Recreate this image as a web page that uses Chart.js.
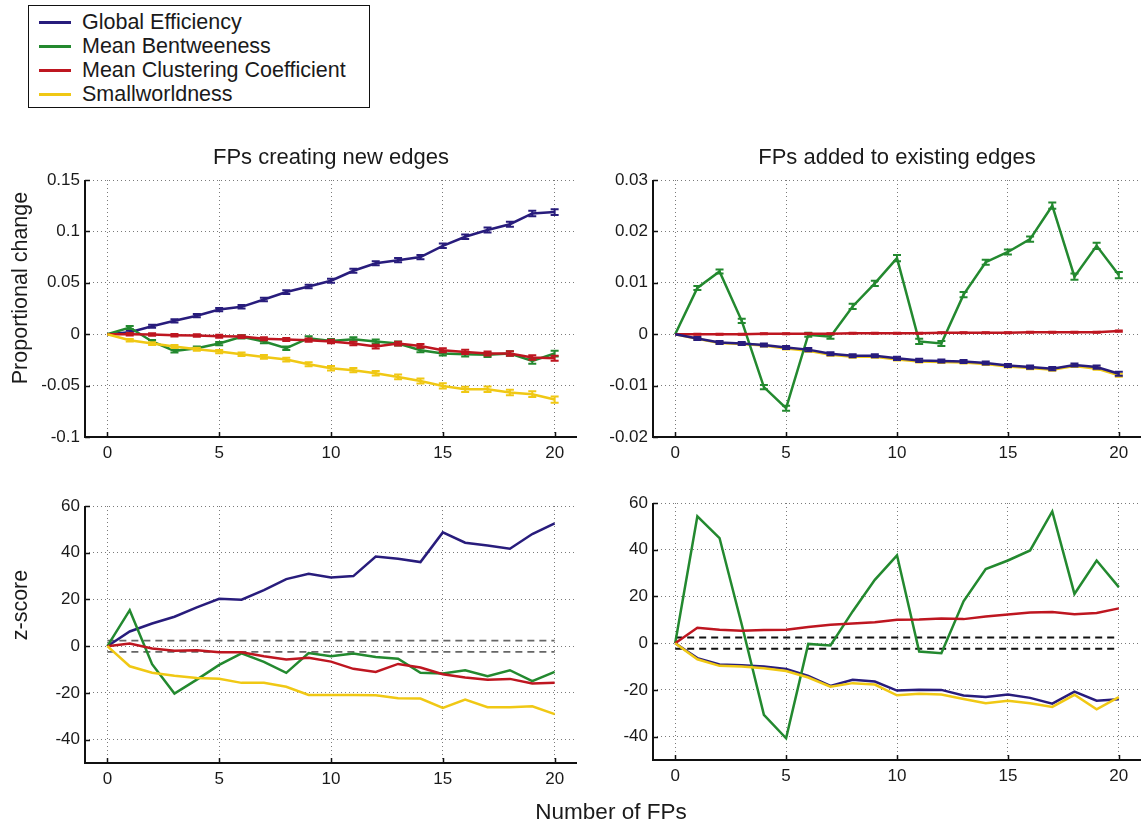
<!DOCTYPE html>
<html>
<head>
<meta charset="utf-8">
<script src="https://cdn.jsdelivr.net/npm/chart.js@4.4.1/dist/chart.umd.min.js"></script>
<style>
  html, body { margin:0; padding:0; background:#fff; }
  body { width:1142px; height:827px; position:relative; overflow:hidden; font-family:"Liberation Sans", Arial, Helvetica, sans-serif; color:#1a1a1a; }
  canvas { position:absolute; left:0; top:0; }
  .lbl { position:absolute; white-space:nowrap; transform:translate(-50%,-50%); }
  .rot { transform:translate(-50%,-50%) rotate(-90deg); }
  #legend { position:absolute; left:28px; top:5px; width:342px; height:103px; border:1.5px solid #111; background:#fff; box-sizing:border-box; }
  .lrow { position:absolute; left:10px; height:24px; display:flex; align-items:center; font-size:21.5px; }
  .lrow span.sw { display:inline-block; width:32px; height:3px; margin-right:11px; }
</style>
</head>
<body>
<canvas id="c1" width="1142" height="827"></canvas>
<canvas id="c2" width="1142" height="827"></canvas>
<canvas id="c3" width="1142" height="827"></canvas>
<canvas id="c4" width="1142" height="827"></canvas>

<div id="legend"></div>
<div class="lbl" style="left:331px;top:157px;font-size:22px;">FPs creating new edges</div>
<div class="lbl" style="left:897px;top:157px;font-size:22px;">FPs added to existing edges</div>
<div class="lbl rot" style="left:20px;top:288px;font-size:21.5px;">Proportional change</div>
<div class="lbl rot" style="left:20px;top:605px;font-size:21.5px;">z-score</div>
<div class="lbl" style="left:611px;top:812px;font-size:22.5px;">Number of FPs</div>

<script>
// ---------------- DATA ----------------
const seriesNames = ["Global Efficiency", "Mean Bentweeness", "Mean Clustering Coefficient", "Smallworldness"];
const seriesColors = ["#281c7c", "#23892f", "#be1620", "#f0c814"];
const fps = [0,1,2,3,4,5,6,7,8,9,10,11,12,13,14,15,16,17,18,19,20];

const xTicks = [0,5,10,15,20];
const propNewTicks = [-0.1,-0.05,0,0.05,0.1,0.15];
const propExistTicks = [-0.02,-0.01,0,0.01,0.02,0.03];
const zTicks = [-40,-20,0,20,40,60];
const zThreshold = 2.4;

// Panel 1: FPs creating new edges, proportional change
const newGlobal  = [0,0.002,0.0078,0.013,0.018,0.024,0.0266,0.0338,0.041,0.0464,0.052,0.0617,0.069,0.072,0.075,0.086,0.0948,0.1013,0.107,0.1175,0.1188];
const newBetw    = [0,0.0065,-0.0071,-0.0162,-0.0136,-0.0091,-0.0026,-0.0071,-0.0136,-0.0039,-0.0065,-0.0049,-0.0071,-0.0091,-0.0156,-0.0188,-0.0195,-0.0201,-0.0188,-0.026,-0.0188];
const newClust   = [0,0,-0.0003,-0.001,-0.0013,-0.002,-0.0023,-0.0045,-0.0052,-0.0058,-0.0071,-0.0091,-0.012,-0.0091,-0.0114,-0.0156,-0.0172,-0.0188,-0.0188,-0.0227,-0.0234];
const newSmall   = [0,-0.0058,-0.0091,-0.012,-0.0146,-0.0169,-0.0195,-0.0221,-0.0247,-0.0292,-0.0331,-0.035,-0.038,-0.0416,-0.0455,-0.0503,-0.0536,-0.0536,-0.0568,-0.0584,-0.0636];
const newGlobalErr = [0,0.0015,0.0015,0.0015,0.0016,0.0016,0.0017,0.0017,0.0018,0.0018,0.0019,0.002,0.002,0.0021,0.0021,0.0022,0.0023,0.0024,0.0025,0.0027,0.0028];
const newBetwErr   = [0,0.0015,0.0015,0.0016,0.0016,0.0016,0.0017,0.0017,0.0017,0.0018,0.0018,0.0019,0.0019,0.002,0.002,0.002,0.0021,0.0021,0.0022,0.0028,0.0028];
const newClustErr  = [0,0.0012,0.0012,0.0013,0.0013,0.0014,0.0014,0.0015,0.0015,0.0016,0.0016,0.0017,0.0018,0.0018,0.0019,0.0019,0.002,0.002,0.0021,0.0022,0.0024];
const newSmallErr  = [0,0.0012,0.0013,0.0014,0.0015,0.0016,0.0017,0.0018,0.0019,0.002,0.0021,0.0021,0.0022,0.0023,0.0024,0.0025,0.0026,0.0027,0.0027,0.0028,0.003];

// Panel 2: FPs added to existing edges, proportional change
const exGlobal = [0,-0.00084,-0.0016,-0.0018,-0.0021,-0.0026,-0.003,-0.0038,-0.0042,-0.0042,-0.0047,-0.0051,-0.0052,-0.0053,-0.0056,-0.0061,-0.0064,-0.0067,-0.006,-0.0064,-0.0077];
const exBetw   = [0,0.009,0.0122,0.0026,-0.0103,-0.0144,-0.0001,-0.0005,0.0054,0.0099,0.0148,-0.0014,-0.0018,0.0077,0.014,0.016,0.0185,0.025,0.0112,0.0172,0.0115];
const exClust  = [0,0,0,0,0.0001,0.0001,0.0001,0.0001,0.0002,0.0002,0.0002,0.0002,0.0003,0.0003,0.0003,0.0003,0.0004,0.0004,0.0004,0.0004,0.0006];
const exSmall  = [0,-0.0009,-0.0017,-0.0019,-0.0022,-0.0028,-0.0032,-0.004,-0.0044,-0.0044,-0.0049,-0.0053,-0.0054,-0.0055,-0.0058,-0.0063,-0.0066,-0.0069,-0.0062,-0.0067,-0.008];
const exGlobalErr = [0,0.0003,0.0003,0.0003,0.0003,0.0003,0.0003,0.0003,0.0003,0.0003,0.0003,0.0003,0.0003,0.0003,0.0003,0.0003,0.0003,0.0003,0.0003,0.0003,0.0004];
const exBetwErr   = [0,0.0004,0.0004,0.0004,0.0004,0.0005,0.0004,0.0004,0.0005,0.0005,0.0006,0.0005,0.0005,0.0005,0.0005,0.0005,0.0005,0.0006,0.0006,0.0006,0.0006];
const exClustErr  = [0,0.0001,0.0001,0.0001,0.0001,0.0001,0.0001,0.0001,0.0001,0.0001,0.0001,0.0001,0.0001,0.0001,0.0001,0.0001,0.0001,0.0001,0.0001,0.0001,0.0001];
const exSmallErr  = [0,0.0002,0.0002,0.0002,0.0002,0.0002,0.0002,0.0002,0.0002,0.0002,0.0002,0.0002,0.0002,0.0002,0.0002,0.0002,0.0002,0.0002,0.0002,0.0002,0.0003];

// Panel 3: FPs creating new edges, z-score
const zNewGlobal = [0,6.3,9.7,12.6,16.6,20.3,19.9,24,28.7,31,29.4,30,38.4,37.4,36,48.7,44.3,43.1,41.7,48,52.6];
const zNewBetw   = [0,15.4,-7.7,-20.3,-14.3,-8,-3.1,-6.7,-11.4,-2.9,-4.3,-3.1,-4.6,-5.4,-11.4,-11.7,-10.3,-12.9,-10.3,-15,-11];
const zNewClust  = [0,1.1,-1,-2,-1.7,-2.6,-2.6,-4.3,-5.7,-5,-6.6,-9.7,-11,-7.6,-9.1,-12,-13.4,-14.4,-14,-16,-15.7];
const zNewSmall  = [0,-8.6,-11.4,-12.7,-13.6,-13.9,-15.7,-15.7,-17.4,-20.9,-20.9,-20.9,-21,-22.3,-22.4,-26.4,-22.9,-26.1,-26.1,-25.7,-29.1];

// Panel 4: FPs added to existing edges, z-score
const zExGlobal = [0,-6.4,-9.1,-9.4,-10,-11,-14,-18.3,-15.7,-16.4,-20.3,-19.9,-20,-22.4,-23,-22,-23.4,-25.9,-20.7,-24.6,-24];
const zExBetw   = [0,54.3,45,8,-30.7,-40.7,-0.3,-1,13.6,27.1,37.6,-3.6,-4.3,17.9,31.7,35.4,39.7,56.4,21.1,35.4,24];
const zExClust  = [0,6.6,5.7,5.3,5.6,5.7,6.9,7.9,8.4,9,10,10.1,10.6,10.3,11.4,12.3,13.1,13.3,12.4,12.9,14.9];
const zExSmall  = [0,-6.9,-9.7,-10,-10.7,-11.9,-14.7,-18.6,-17.1,-17.7,-22.3,-21.6,-22,-23.9,-25.7,-24.6,-25.7,-27.3,-22.1,-28.3,-23.1];

// ---------------- RENDER ----------------
Chart.defaults.font.family = "'Liberation Sans', Arial, Helvetica, sans-serif";
Chart.defaults.font.size = 17;
Chart.defaults.color = '#1a1a1a';

// legend (HTML)
const legendEl = document.getElementById('legend');
seriesNames.forEach((n, i) => {
  const r = document.createElement('div');
  r.className = 'lrow';
  r.style.top = (4 + i * 24.2) + 'px';
  r.innerHTML = '<span class="sw" style="background:' + seriesColors[i] + '"></span>' + n;
  legendEl.appendChild(r);
});

const pts = (arr) => arr.map((v, i) => ({ x: fps[i], y: v }));

const errorBars = {
  id: 'errorBars',
  afterDatasetDraw(chart, args) {
    const ds = chart.data.datasets[args.index];
    if (!ds.errors) return;
    const ctx = chart.ctx, xs = chart.scales.x, ys = chart.scales.y;
    ctx.save();
    ctx.strokeStyle = ds.borderColor;
    ctx.lineWidth = 2;
    ctx.setLineDash([]);
    ds.data.forEach((p, j) => {
      const e = ds.errors[j];
      if (!e) return;
      const px = xs.getPixelForValue(p.x);
      const y1 = ys.getPixelForValue(p.y - e), y2 = ys.getPixelForValue(p.y + e);
      ctx.beginPath();
      ctx.moveTo(px, y1); ctx.lineTo(px, y2);
      ctx.moveTo(px - 4, y1); ctx.lineTo(px + 4, y1);
      ctx.moveTo(px - 4, y2); ctx.lineTo(px + 4, y2);
      ctx.stroke();
    });
    ctx.restore();
  }
};

// solid axis lines (left & bottom, MATLAB "box off") with inward tick marks
const axesAndTicks = {
  id: 'axesAndTicks',
  afterDraw(chart) {
    const ctx = chart.ctx, xs = chart.scales.x, ys = chart.scales.y, a = chart.chartArea;
    ctx.save();
    ctx.setLineDash([]);
    ctx.strokeStyle = '#111';
    ctx.lineWidth = 2;
    ctx.beginPath();
    ctx.moveTo(a.left, a.top); ctx.lineTo(a.left, a.bottom); ctx.lineTo(a.right, a.bottom);
    ctx.stroke();
    ctx.lineWidth = 1.5;
    ctx.beginPath();
    xs.ticks.forEach(t => { const px = Math.round(xs.getPixelForValue(t.value)) + 0.5; ctx.moveTo(px, a.bottom); ctx.lineTo(px, a.bottom - 5); });
    ys.ticks.forEach(t => { const py = Math.round(ys.getPixelForValue(t.value)) + 0.5; ctx.moveTo(a.left, py); ctx.lineTo(a.left + 5, py); });
    ctx.stroke();
    ctx.restore();
  }
};

function fmt(v) { return String(+Number(v).toFixed(4)); }

function makeChart(id, area, yRange, yTicks, series, errs, orders, threshold) {
  const datasets = series.map((arr, i) => ({
    label: seriesNames[i],
    data: pts(arr),
    borderColor: seriesColors[i],
    backgroundColor: seriesColors[i],
    borderWidth: 2.5,
    pointRadius: 0,
    tension: 0,
    order: orders[i],
    errors: errs ? errs[i] : null
  }));
  if (threshold) {
    [threshold.value, -threshold.value].forEach(v => {
      datasets.push({
        label: 'thr',
        data: [{ x: fps[0], y: v }, { x: fps[fps.length - 1], y: v }],
        borderColor: threshold.color,
        borderWidth: threshold.width,
        borderDash: [7, 5],
        pointRadius: 0,
        order: 10
      });
    });
  }
  const axisCommon = () => ({
    grid: { color: '#7a7a7a', lineWidth: 1, drawTicks: false },
    border: { display: false, color: '#111', width: 2, dash: [1, 3] }
  });
  return new Chart(document.getElementById(id), {
    type: 'line',
    data: { datasets },
    options: {
      responsive: false,
      animation: false,
      events: [],
      layout: { padding: { left: area.left - 60, top: area.top, right: 1142 - area.right, bottom: 827 - area.bottom - 30 } },
      plugins: { legend: { display: false }, tooltip: { enabled: false } },
      scales: {
        x: Object.assign({
          type: 'linear', min: -1, max: 21,
          afterBuildTicks: s => { s.ticks = xTicks.map(v => ({ value: v })); },
          afterFit: s => { s.height = 30; },
          ticks: { padding: 6, callback: v => fmt(v), maxRotation: 0 }
        }, axisCommon()),
        y: Object.assign({
          type: 'linear', min: yRange[0], max: yRange[1],
          afterBuildTicks: s => { s.ticks = yTicks.map(v => ({ value: v })); },
          afterFit: s => { s.width = 60; },
          ticks: { padding: 5, callback: v => fmt(v) }
        }, axisCommon())
      }
    },
    plugins: [errorBars, axesAndTicks]
  });
}

// order: lower = drawn on top
makeChart('c1', { left: 85, right: 577, top: 180, bottom: 437 }, [-0.1, 0.15], propNewTicks,
  [newGlobal, newBetw, newClust, newSmall], [newGlobalErr, newBetwErr, newClustErr, newSmallErr], [3, 2, 1, 0], null);
makeChart('c2', { left: 653, right: 1141, top: 180, bottom: 437 }, [-0.02, 0.03], propExistTicks,
  [exGlobal, exBetw, exClust, exSmall], [exGlobalErr, exBetwErr, exClustErr, exSmallErr], [0, 2, 1, 3], null);
makeChart('c3', { left: 85, right: 577, top: 506, bottom: 763 }, [-50, 60], zTicks,
  [zNewGlobal, zNewBetw, zNewClust, zNewSmall], null, [3, 2, 1, 0], { value: zThreshold, color: '#666', width: 1.8 });
makeChart('c4', { left: 653, right: 1141, top: 503, bottom: 760 }, [-50, 60], zTicks,
  [zExGlobal, zExBetw, zExClust, zExSmall], null, [3, 2, 1, 0], { value: zThreshold, color: '#111', width: 2 });
</script>
</body>
</html>
